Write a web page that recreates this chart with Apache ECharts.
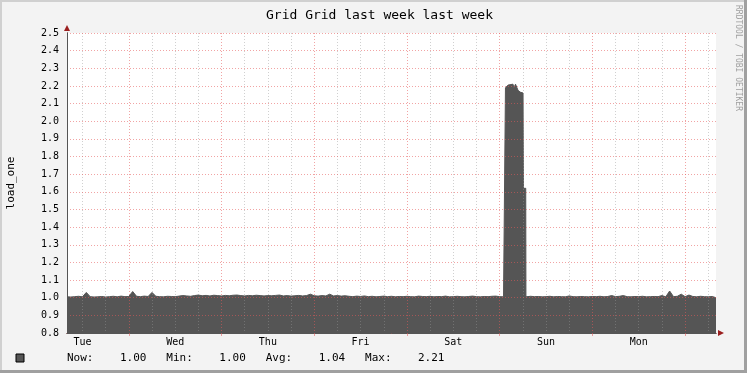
<!DOCTYPE html>
<html><head><meta charset="utf-8">
<script src="https://cdn.jsdelivr.net/npm/echarts@6/dist/echarts.min.js"></script>
<style>html,body{margin:0;padding:0;background:#f3f3f3}#c{width:747px;height:373px}</style>
</head><body><div id="c"></div>
<script>
const titleText = 'Grid Grid last week last week';
const yAxisName = 'load_one';
const watermark = 'RRDTOOL / TOBI OETIKER';
const dayLabels = ['Tue','Wed','Thu','Fri','Sat','Sun','Mon'];
const dayNoonHours = [12,36,60,84,108,132,156];
const midnightHours = [24,48,72,96,120,144,168];
const sixHourLines = [12,18,30,36,42,54,60,66,78,84,90,102,108,114,126,132,138,150,156,162,174];
const startHour = 8, endHour = 176;
const yMin = 0.8, yMax = 2.5, yStep = 0.1;

// hourly load, hours 8..121
const loadBefore = [
  1.005,1.004,1.006,1.008,1.005,1.03,1.006,1.004,1.005,1.007,1.004,1.006,1.008,1.005,1.009,1.006,
  1.007,1.035,1.008,1.006,1.009,1.007,1.03,1.008,1.006,1.005,1.008,1.007,1.006,1.009,1.012,1.01,1.008,1.012,1.015,1.011,1.013,1.01,1.014,1.012,
  1.01,1.013,1.011,1.014,1.015,1.012,1.01,1.013,1.011,1.014,1.012,1.01,1.012,1.011,1.013,1.015,1.01,1.012,1.009,1.011,1.013,1.01,1.012,1.02,
  1.011,1.009,1.012,1.01,1.02,1.01,1.012,1.009,1.011,1.008,1.006,1.009,1.007,1.01,1.006,1.008,1.005,1.007,1.009,1.006,1.008,1.005,1.007,1.006,
  1.008,1.006,1.005,1.009,1.007,1.006,1.008,1.005,1.007,1.006,1.009,1.005,1.006,1.008,1.006,1.005,1.007,1.009,1.006,1.005,1.007,1.006,1.008,1.009,
  1.006,1.005
];
// spike detail (hour, load)
const spikeHours = [121.4,121.5,121.65,122.2,122.7,123.45,123.7,124.1,124.5,124.75,125.3,126.05,126.1,126.15,126.75,126.8];
const spikeLoad  = [1.005,2.19,2.2,2.205,2.21,2.21,2.19,2.21,2.21,2.175,2.165,2.16,2.155,1.62,1.62,1.005];
// hourly load, hours 127..176
const loadAfter = [
  1.004,1.008,1.006,1.007,1.005,1.006,1.008,1.005,1.007,1.006,1.005,1.01,1.006,1.005,1.007,1.006,1.005,
  1.007,1.006,1.008,1.005,1.007,1.012,1.006,1.008,1.012,1.006,1.005,1.007,1.006,1.008,1.005,1.006,1.007,1.006,1.012,1.005,1.038,1.006,1.008,1.02,
  1.006,1.015,1.007,1.005,1.008,1.006,1.005,1.007,1.00
];
const legendStats = [['Now','1.00'],['Min','1.00'],['Avg','1.04'],['Max','2.21']];

const data = [];
loadBefore.forEach((v,i)=>data.push([startHour+i, v]));
spikeHours.forEach((h,i)=>data.push([h, spikeLoad[i]]));
loadAfter.forEach((v,i)=>data.push([127+i, v]));

const mono = 'DejaVu Sans Mono';
const majorColor = 'rgba(230,90,90,0.55)';
const minorColor = 'rgba(150,150,150,0.45)';
const arrowColor = '#9b1f1f';
const axisColor = '#555';

const chart = echarts.init(document.getElementById('c'), null, {renderer:'canvas'});
const legendLine = legendStats.map(([k,v]) => k + ':' + v.padStart(8)).join('   ');
chart.setOption({
  backgroundColor: '#f3f3f3',
  animation: false,
  title: {text: titleText, left: 261, top: 4, textStyle:{fontFamily: mono, fontSize: 13, fontWeight:'normal', color:'#000'}},
  grid: {left: 67, right: 31, top: 33, bottom: 40, show: true, backgroundColor:'#fff', borderWidth: 0,
         containLabel:false, outerBoundsMode:'none'},
  xAxis: [
    {type:'value', min:startHour, max:endHour, z:4, position:'bottom',
     axisLine:{show:false}, axisLabel:{show:false},
     axisTick:{show:false, customValues: sixHourLines},
     splitLine:{show:true, lineStyle:{color:minorColor, type:[1,2], width:1}}},
    {type:'value', min:startHour, max:endHour, z:6, position:'bottom',
     axisLine:{show:true, lineStyle:{color:axisColor, width:1}},
     axisTick:{show:true, customValues: midnightHours, length:3, lineStyle:{color:majorColor}},
     axisLabel:{customValues: dayNoonHours, margin:4, fontFamily:mono, fontSize:10, color:'#000',
       formatter: v => dayLabels[dayNoonHours.indexOf(v)]},
     splitLine:{show:true, lineStyle:{color:majorColor, type:[1,2], width:1}}},
    {type:'value', min:startHour, max:endHour, z:5, position:'bottom',
     axisLine:{show:true, lineStyle:{color:arrowColor, width:1}, symbol:['none','triangle'], symbolSize:[6,6], symbolOffset:[0,5]},
     axisTick:{show:false}, axisLabel:{show:false}, splitLine:{show:false}}
  ],
  yAxis: [
    {type:'value', min:yMin, max:yMax, interval:yStep, z:6, position:'left',
     name: yAxisName, nameLocation:'middle', nameGap:50, nameRotate:90,
     nameTextStyle:{fontFamily:mono, fontSize:11, color:'#000'},
     axisLine:{show:true, lineStyle:{color:axisColor, width:1}},
     axisTick:{show:false},
     axisLabel:{margin:8, fontFamily:mono, fontSize:10, color:'#000', formatter: v => v.toFixed(1)},
     splitLine:{show:true, lineStyle:{color:majorColor, type:[1,2], width:1}}},
    {type:'value', min:yMin, max:yMax, interval:yStep, z:5, position:'left',
     axisLine:{show:true, lineStyle:{color:arrowColor, width:1}, symbol:['none','triangle'], symbolSize:[6,6], symbolOffset:[0,5]},
     axisTick:{show:false}, axisLabel:{show:false}, splitLine:{show:false}}
  ],
  series: [{
    type:'line', xAxisIndex:1, yAxisIndex:0, data: data, symbol:'none', z:2,
    lineStyle:{width:1, color:'#555555'},
    areaStyle:{color:'#555555', opacity:1, origin:'start'}
  }],
  graphic: [
    {type:'rect', shape:{x:0,y:0,width:747,height:2}, style:{fill:'#d0d0d0'}},
    {type:'rect', shape:{x:0,y:0,width:2,height:373}, style:{fill:'#d0d0d0'}},
    {type:'rect', shape:{x:0,y:370,width:747,height:3}, style:{fill:'#a0a0a0'}},
    {type:'rect', shape:{x:744,y:0,width:3,height:373}, style:{fill:'#a0a0a0'}},
    {type:'text', x:738, y:5, rotation:-Math.PI/2,
     style:{text: watermark, fill:'#a0a0a0', font:'8px ' + mono, textAlign:'left', textVerticalAlign:'middle'}},
    {type:'rect', shape:{x:16,y:354,width:8,height:8}, style:{fill:'#555555', stroke:'#000', lineWidth:1}},
    {type:'text', x:67, y:358,
     style:{text: legendLine, fill:'#000', font:'11px ' + mono, textAlign:'left', textVerticalAlign:'middle'}}
  ]
});
</script></body></html>
